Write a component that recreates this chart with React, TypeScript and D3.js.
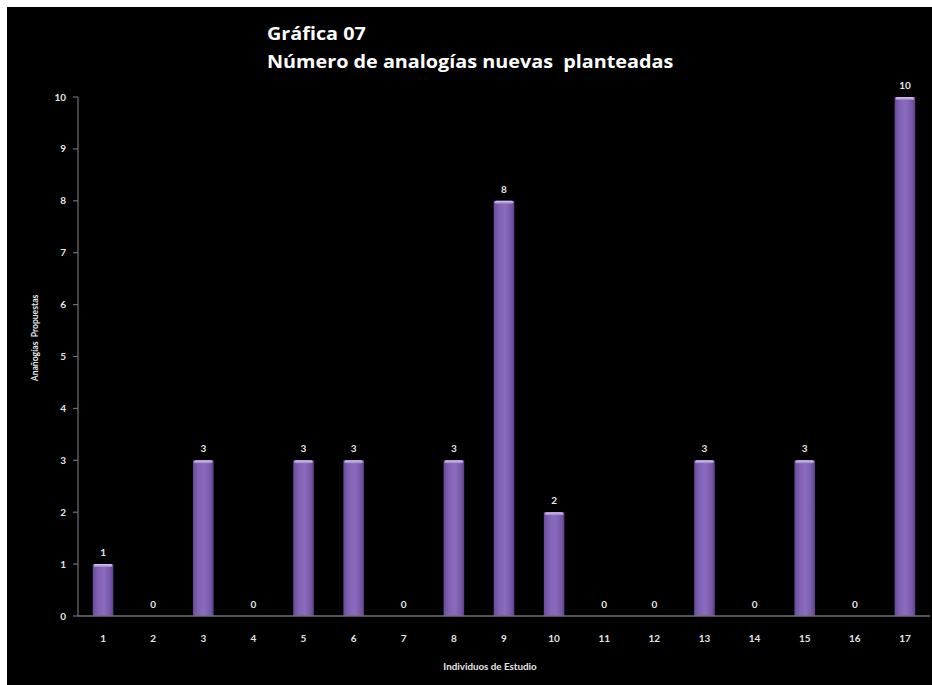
import React from "react";
import * as d3 from "d3";

const categories = ["1", "2", "3", "4", "5", "6", "7", "8", "9", "10", "11", "12", "13", "14", "15", "16", "17"];
const values = [1, 0, 3, 0, 3, 3, 0, 3, 8, 2, 0, 0, 3, 0, 3, 0, 10];
const yTicks = [0, 1, 2, 3, 4, 5, 6, 7, 8, 9, 10];
const titleLines = ["Gráfica 07", "Número de analogías nuevas  planteadas"];
const xTitle = "Individuos de Estudio";
const yTitle = "Anañogías  Propuestas";

const W = 932;
const H = 685;
const left = 78;
const right = 930;
const top = 97;
const bottom = 616;
const font = "Lato, 'Open Sans', sans-serif";

export default function App() {
  const x = d3.scaleBand<string>().domain(categories).range([left, right]).paddingInner(0.59).paddingOuter(0.295);
  const y = d3.scaleLinear().domain([0, 10]).range([bottom, top]);
  const bw = x.bandwidth();

  return (
    <svg
      width={W}
      height={H}
      style={{ position: "fixed", top: 0, left: 0, display: "block" }}
      fontFamily={font}
    >
      <defs>
        <linearGradient id="barFill" x1="0" x2="1" y1="0" y2="0">
          <stop offset="0" stopColor="#6a4b9a" />
          <stop offset="0.25" stopColor="#8061b3" />
          <stop offset="0.55" stopColor="#8a6bbd" />
          <stop offset="0.85" stopColor="#7657a8" />
          <stop offset="1" stopColor="#5e4189" />
        </linearGradient>
        <linearGradient id="capFill" x1="0" x2="0" y1="0" y2="1">
          <stop offset="0" stopColor="#d9c8f2" />
          <stop offset="1" stopColor="#9b7fcc" />
        </linearGradient>
      </defs>
      <rect x={0} y={0} width={W} height={H} fill="#ffffff" />
      <rect x={7} y={7} width={W - 7} height={H - 7} fill="#000000" />

      {titleLines.map((t, i) => (
        <text
          key={i}
          x={267}
          y={40 + i * 28}
          fill="#ffffff"
          fontSize={18}
          fontWeight="bold"
          fontFamily="'Open Sans', sans-serif"
          xmlSpace="preserve"
          transform={`translate(267, 0) scale(1.1, 1) translate(-267, 0)`}
          style={{ whiteSpace: "pre" }}
        >
          {t}
        </text>
      ))}

      {/* y axis */}
      <line x1={left} x2={left} y1={top} y2={bottom} stroke="#707070" strokeWidth={1.2} />
      {yTicks.map((t) => (
        <g key={t}>
          <line x1={left - 5} x2={left} y1={y(t)} y2={y(t)} stroke="#707070" strokeWidth={1.2} />
          <text x={left - 12} y={y(t)} dy="0.35em" textAnchor="end" fill="#e6e6e6" fontSize={10} fontWeight="bold">
            {t}
          </text>
        </g>
      ))}

      {/* bars */}
      {values.map((v, i) => {
        const bx = x(categories[i])!;
        const by = y(v);
        const h = bottom - by;
        return (
          <g key={i}>
            {v > 0 && (
              <>
                <rect x={bx} y={by} width={bw} height={h} fill="url(#barFill)" />
                <rect x={bx + 1} y={by} width={bw - 2} height={3} rx={1.5} fill="url(#capFill)" />
              </>
            )}
            <text
              x={bx + bw / 2}
              y={by - 8}
              textAnchor="middle"
              fill="#e6e6e6"
              fontSize={10}
              fontWeight="bold"
            >
              {v}
            </text>
          </g>
        );
      })}

      {/* x axis */}
      <line x1={left} x2={right} y1={bottom} y2={bottom} stroke="#707070" strokeWidth={1.5} />
      {categories.map((c) => (
        <text
          key={c}
          x={x(c)! + bw / 2}
          y={642}
          textAnchor="middle"
          fill="#e6e6e6"
          fontSize={10}
          fontWeight="bold"
        >
          {c}
        </text>
      ))}

      <text x={490} y={670} textAnchor="middle" fill="#e6e6e6" fontSize={9.8} fontWeight="bold">
        {xTitle}
      </text>
      <text
        transform={`translate(38, 338) rotate(-90)`}
        textAnchor="middle"
        fill="#e6e6e6"
        fontSize={8.6}
        fontWeight="bold"
        xmlSpace="preserve"
        style={{ whiteSpace: "pre" }}
      >
        {yTitle}
      </text>
    </svg>
  );
}
